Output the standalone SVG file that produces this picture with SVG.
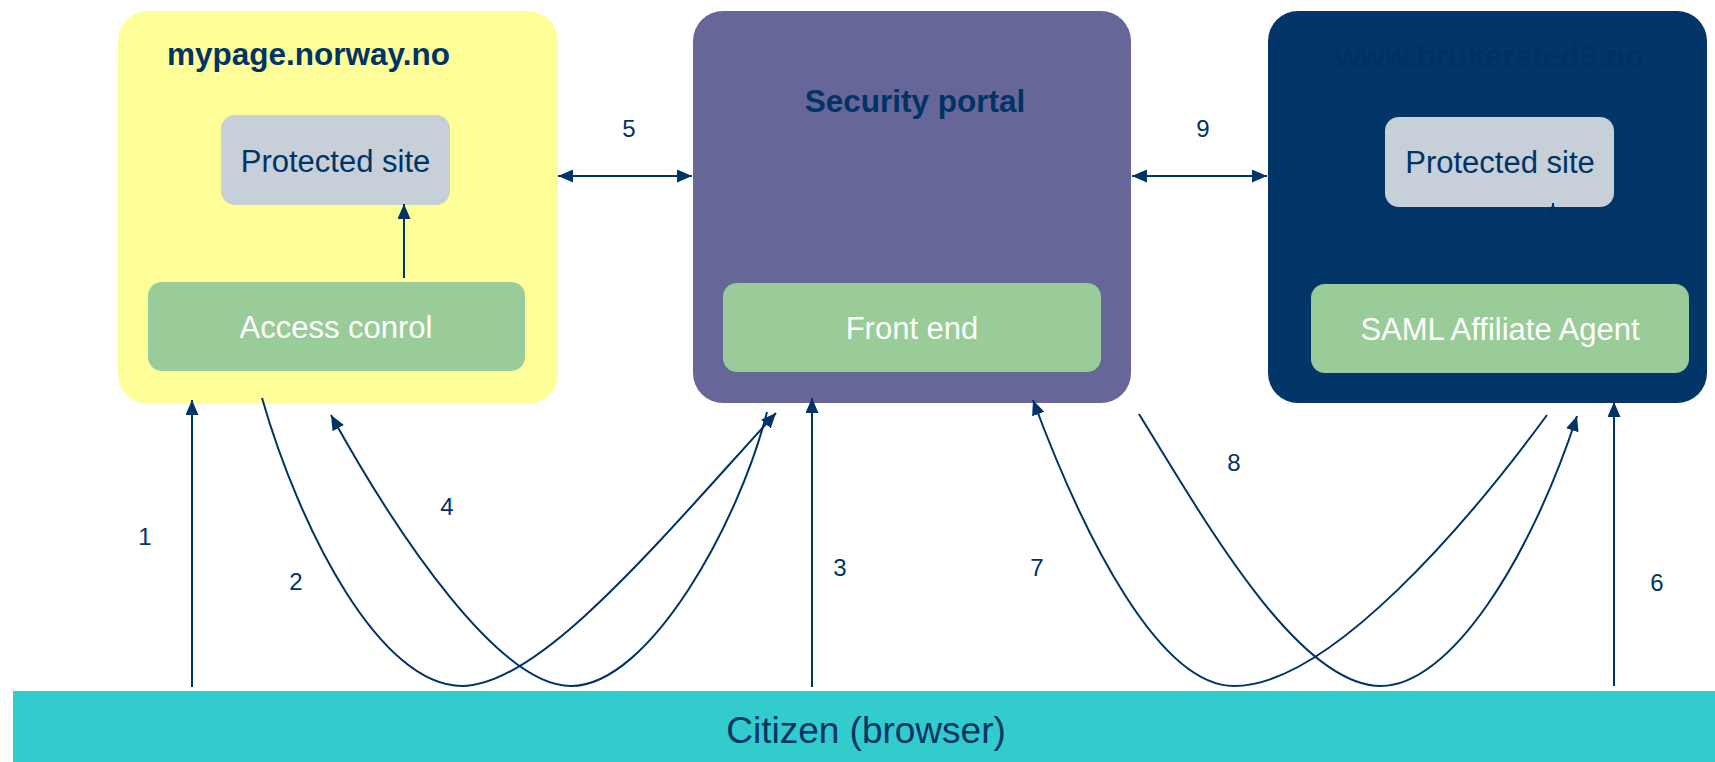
<svg xmlns="http://www.w3.org/2000/svg" width="1715" height="762" viewBox="0 0 1715 762">
<style>
.lbl{font-family:"Liberation Sans",Arial,sans-serif;font-size:31px;text-anchor:middle}
.ttl{font-family:"Liberation Sans",Arial,sans-serif;font-size:31.5px;font-weight:bold;fill:#003366}
.num{font-family:"Liberation Sans",Arial,sans-serif;font-size:24px;fill:#003366;text-anchor:middle}
.dark{fill:#003366}
.white{fill:#ffffff}
.conn{fill:none;stroke:#003366;stroke-width:2;marker-end:url(#ah)}
.both{marker-start:url(#ah)}
</style>
<defs>
<marker id="ah" viewBox="0 0 15 13" refX="15" refY="6.5" markerWidth="15" markerHeight="13" markerUnits="userSpaceOnUse" orient="auto-start-reverse">
<path d="M0,0 L15,6.5 L0,13 z" fill="#003366"/>
</marker>
</defs>
<rect width="1715" height="762" fill="#ffffff"/>

<g id="mypage">
<rect x="118" y="11" width="440" height="393" rx="30" fill="#ffff99"/>
<text class="ttl" x="167" y="65">mypage.norway.no</text>
</g>
<g id="protected-left">
<rect x="221" y="115" width="229" height="90" rx="14" fill="#c7cfd9"/>
<text class="lbl dark" x="335.5" y="172">Protected site</text>
</g>
<g id="access-control">
<rect x="148" y="282" width="377" height="89" rx="14" fill="#99cc99"/>
<text class="lbl white" x="336" y="338">Access conrol</text>
</g>

<g id="security-portal">
<rect x="693" y="11" width="438" height="392" rx="30" fill="#666699"/>
<text class="ttl" x="915" y="112" text-anchor="middle">Security portal</text>
</g>
<g id="front-end">
<rect x="723" y="283" width="378" height="89" rx="14" fill="#99cc99"/>
<text class="lbl white" x="912" y="339">Front end</text>
</g>

<g id="brukersted3">
<rect x="1268" y="11" width="439" height="392" rx="30" fill="#033668"/>
<text class="ttl" x="1490" y="67" text-anchor="middle" style="fill:#013162">www.brukersted3.no</text>
</g>
<g id="protected-right">
<rect x="1385" y="117" width="229" height="90" rx="14" fill="#c7cfd9"/>
<text class="lbl dark" x="1500" y="173">Protected site</text>
</g>
<g id="saml-agent">
<rect x="1311" y="284" width="378" height="89" rx="14" fill="#99cc99"/>
<text class="lbl white" x="1500" y="340">SAML Affiliate Agent</text>
</g>

<g id="citizen">
<rect x="13" y="691" width="1702" height="71" fill="#33cccc"/>
<text class="lbl dark" x="866" y="743" style="font-size:37px">Citizen (browser)</text>
</g>

<g id="connectors">
<path class="conn" d="M404,278 L404,204"/>
<path class="conn" d="M1553,284 L1553,203" style="stroke:#033668"/>
<path class="conn both" d="M558,176 L692,176"/>
<path class="conn both" d="M1132,176 L1267,176"/>
<path class="conn" d="M192,687 L192,400"/>
<path class="conn" d="M812,687 L812,398"/>
<path class="conn" d="M1614,686 L1614,402"/>
<path class="conn" d="M262,398 C300,530 380,686 462,686 C540,686 660,540 776,413"/>
<path class="conn" d="M767,412 C740,520 650,686 571,686 C500,686 400,540 331,415"/>
<path class="conn" d="M1547,415 C1470,520 1330,686 1234,686 C1160,686 1085,540 1033,400"/>
<path class="conn" d="M1139,414 C1210,530 1300,686 1381,686 C1450,686 1530,560 1577,416"/>
</g>

<g id="labels">
<text class="num" x="145" y="545">1</text>
<text class="num" x="296" y="590">2</text>
<text class="num" x="840" y="576">3</text>
<text class="num" x="447" y="515">4</text>
<text class="num" x="629" y="137">5</text>
<text class="num" x="1657" y="591">6</text>
<text class="num" x="1037" y="576">7</text>
<text class="num" x="1234" y="471">8</text>
<text class="num" x="1203" y="137">9</text>
</g>
</svg>
